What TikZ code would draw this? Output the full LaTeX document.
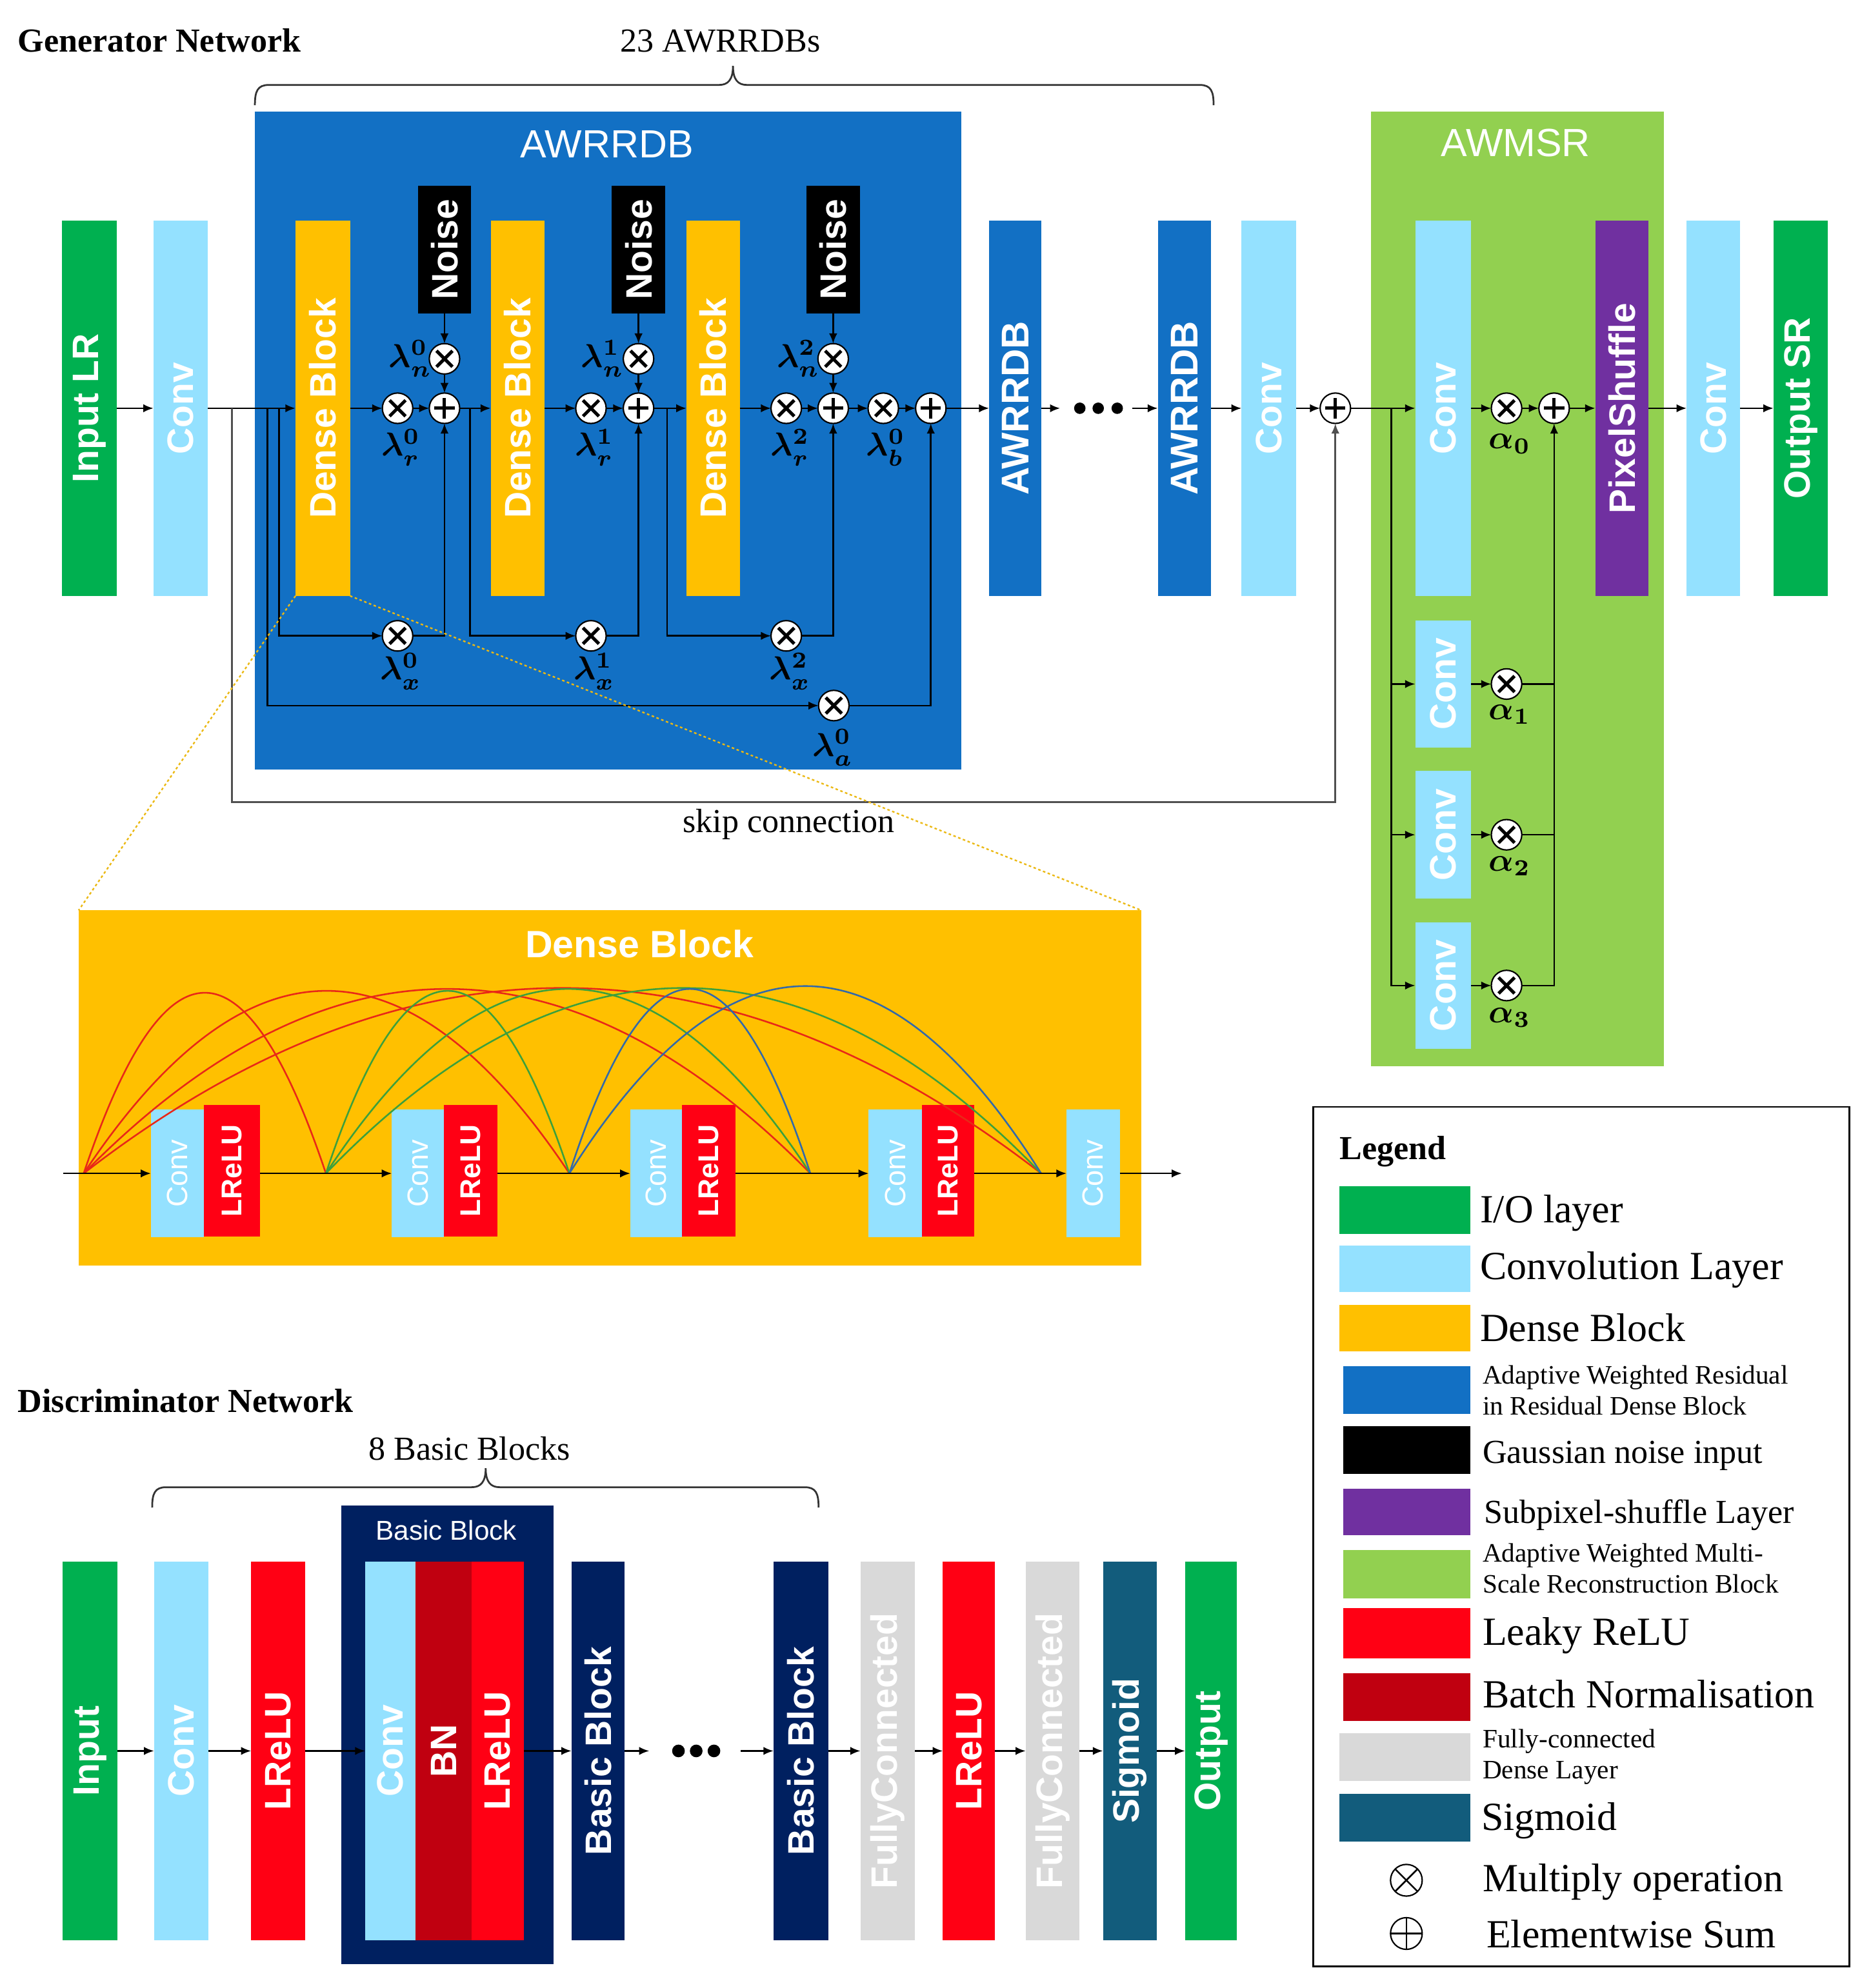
\documentclass[tikz,border=0pt]{standalone}
\usepackage{fontspec}
\setmainfont{Liberation Serif}
\setsansfont{Liberation Sans}
\usetikzlibrary{arrows.meta}
\definecolor{cio}{RGB}{0,176,80}
\definecolor{cconv}{RGB}{148,225,255}
\definecolor{cdense}{RGB}{255,192,0}
\definecolor{cawr}{RGB}{18,112,196}
\definecolor{cpix}{RGB}{112,48,160}
\definecolor{cmsr}{RGB}{146,208,80}
\definecolor{crelu}{RGB}{255,0,20}
\definecolor{cbn}{RGB}{192,0,16}
\definecolor{cfc}{RGB}{217,217,217}
\definecolor{csig}{RGB}{18,92,124}
\definecolor{cnavy}{RGB}{0,32,96}
\definecolor{cskip}{RGB}{80,80,80}
\definecolor{carcr}{RGB}{232,40,24}
\definecolor{carcg}{RGB}{60,160,60}
\definecolor{carcb}{RGB}{50,105,170}
\definecolor{czoom}{RGB}{235,185,20}
\newcommand\fvb{\sffamily\bfseries\fontsize{29}{29}\selectfont}
\newcommand\fvbl{\sffamily\bfseries\fontsize{30.5}{30.5}\selectfont}
\newcommand\fvr{\sffamily\fontsize{23}{23}\selectfont}
\newcommand\fvs{\sffamily\bfseries\fontsize{22.5}{22.5}\selectfont}
\newcommand\ftitle{\sffamily\fontsize{31}{31}\selectfont}
\newcommand\fhead{\rmfamily\bfseries\fontsize{26.5}{30}\selectfont}
\newcommand\ftext{\rmfamily\fontsize{26.5}{30}\selectfont}
\newcommand\flgA{\rmfamily\fontsize{31.5}{34}\selectfont}
\newcommand\flgB{\rmfamily\fontsize{26.5}{30}\selectfont}
\newcommand\flgC{\rmfamily\fontsize{21}{24.5}\selectfont}
\newcommand\rt[1]{\rotatebox{90}{#1}}
\newcommand\lm[1]{\scalebox{2.6}{\boldmath$#1$}}
\tikzset{
 sz/.style 2 args={minimum width=#1pt, minimum height=#2pt},
 blk/.style={rectangle, inner sep=0pt, outer sep=0pt, text=white, font=\fvb},
 bgbox/.style={rectangle, inner sep=0pt, outer sep=0pt},
 arr/.style={line width=1.3pt, -{Latex[length=8pt,width=6.5pt]}},
 wire/.style={line width=1.3pt},
 opc/.style={circle, draw=black, line width=1.1pt, fill=white, minimum size=24pt, inner sep=0pt, outer sep=0pt},
 opmul/.style={opc, path picture={\draw[line width=2.6pt] ([shift={(-6.3pt,-6.3pt)}]path picture bounding box.center) -- ([shift={(6.3pt,6.3pt)}]path picture bounding box.center) ([shift={(-6.3pt,6.3pt)}]path picture bounding box.center) -- ([shift={(6.3pt,-6.3pt)}]path picture bounding box.center);}},
 opsum/.style={opc, path picture={\draw[line width=2.6pt] ([shift={(-8pt,0pt)}]path picture bounding box.center) -- ([shift={(8pt,0pt)}]path picture bounding box.center) ([shift={(0pt,-8pt)}]path picture bounding box.center) -- ([shift={(0pt,8pt)}]path picture bounding box.center);}},
 lgop/.style={circle, draw=black, line width=1.1pt, minimum size=25pt, inner sep=0pt},
 lgmul/.style={lgop, path picture={\draw[line width=1.3pt] ([shift={(-9pt,-9pt)}]path picture bounding box.center) -- ([shift={(9pt,9pt)}]path picture bounding box.center) ([shift={(-9pt,9pt)}]path picture bounding box.center) -- ([shift={(9pt,-9pt)}]path picture bounding box.center);}},
 lgsum/.style={lgop, path picture={\draw[line width=1.3pt] ([shift={(-13pt,0pt)}]path picture bounding box.center) -- ([shift={(13pt,0pt)}]path picture bounding box.center) ([shift={(0pt,-13pt)}]path picture bounding box.center) -- ([shift={(0pt,13pt)}]path picture bounding box.center);}},
 lamlab/.style={inner sep=0pt},
 bracel/.style={line width=1.4pt, draw=black!80},
 zoomline/.style={line width=1.2pt, draw=czoom, dash pattern=on 2pt off 2pt},
 arcl/.style={line width=1.3pt},
 txt/.style={inner sep=0pt},
}
\begin{document}
\begin{tikzpicture}[x=1pt,y=-1pt]
\useasboundingbox (0,0) rectangle (1475,1568);

% ================= Generator =================
\node[txt, anchor=base west, font=\fhead] (gtitle) at (14,41) {Generator Network};
\node[txt, anchor=base, font=\ftext] (gcount) at (568,41) {23 AWRRDBs};
\draw[bracel] (201,83) .. controls (201,72) and (203,67) .. (212,67) -- (567,67) .. controls (574,67) and (578,63) .. (578,52) .. controls (578,63) and (582,67) .. (589,67) -- (946,67) .. controls (955,67) and (957,72) .. (957,83);

\node[bgbox, fill=cawr, sz={557}{519}] (awbox) at (479.5,347.5) {};
\node[txt, anchor=base, font=\ftitle, text=white] (awtitle) at (478.5,124.4) {AWRRDB};
\node[bgbox, fill=cmsr, sz={231}{753}] (msrbox) at (1196.5,464.5) {};
\node[txt, anchor=base, font=\ftitle, text=white] (msrtitle) at (1195.2,123.3) {AWMSR};

\node[blk, fill=cio, sz={43}{296}] (inLR) at (70.5,322) {\rt{Input LR}};
\node[blk, fill=cconv, sz={43}{296}] (gc1) at (142.5,322) {\rt{Conv}};
\node[blk, fill=cdense, sz={43}{296}] (db1) at (254.5,322) {\rt{Dense Block}};
\node[blk, fill=cdense, sz={42.6}{296}] (db2) at (408.3,322) {\rt{Dense Block}};
\node[blk, fill=cdense, sz={42}{296}] (db3) at (562.3,322) {\rt{Dense Block}};
\node[blk, fill=black, sz={42}{100.5}] (nz1) at (350.5,196.8) {\rt{Noise}};
\node[blk, fill=black, sz={42}{100.5}] (nz2) at (503.5,196.8) {\rt{Noise}};
\node[blk, fill=black, sz={42}{100.5}] (nz3) at (657,196.8) {\rt{Noise}};
\node[blk, font=\fvbl, fill=cawr, sz={41}{296}] (aw2) at (800.5,322) {\rt{AWRRDB}};
\node[blk, font=\fvbl, fill=cawr, sz={42}{296}] (aw3) at (934,322) {\rt{AWRRDB}};
\node[bgbox, sz={57}{10}] (dots1) at (864.5,322) {};
\fill (851.5,322) circle[radius=4.5pt] (866,322) circle[radius=4.5pt] (881,322) circle[radius=4.5pt];
\node[blk, fill=cconv, sz={43}{296}] (gc2) at (1000.5,322) {\rt{Conv}};
\node[blk, fill=cconv, sz={44}{296}] (cA) at (1138,322) {\rt{Conv}};
\node[blk, fill=cconv, sz={44}{100}] (sc1) at (1138,539.5) {\rt{Conv}};
\node[blk, fill=cconv, sz={44}{101}] (sc2) at (1138,658.4) {\rt{Conv}};
\node[blk, fill=cconv, sz={44}{100}] (sc3) at (1138,777.3) {\rt{Conv}};
\node[blk, fill=cpix, sz={42}{296}] (pix) at (1279,322) {\rt{PixelShuffle}};
\node[blk, fill=cconv, sz={42}{296}] (gc3) at (1351,322) {\rt{Conv}};
\node[blk, fill=cio, sz={43}{296}] (outSR) at (1420,322) {\rt{Output SR}};

% operators
\node[opmul] (mr0) at (313.5,322) {};
\node[opsum] (p0) at (350.5,322) {};
\node[opmul] (mn0) at (350.5,283) {};
\node[opmul] (mr1) at (466,322) {};
\node[opsum] (p1) at (503.5,322) {};
\node[opmul] (mn1) at (503.5,283) {};
\node[opmul] (mr2) at (620,322) {};
\node[opsum] (p2) at (657,322) {};
\node[opmul] (mn2) at (657,283) {};
\node[opmul] (mb) at (696.5,322) {};
\node[opsum] (pf) at (734,322) {};
\node[opmul] (mx0) at (313.5,501.5) {};
\node[opmul] (mx1) at (466,501.5) {};
\node[opmul] (mx2) at (620,501.5) {};
\node[opmul] (ma) at (657.5,556.5) {};
\node[opsum] (ps) at (1053,322) {};
\node[opmul] (a0) at (1188,322) {};
\node[opsum] (pa) at (1225.5,322) {};
\node[opmul] (a1) at (1188,539.5) {};
\node[opmul] (a2) at (1188,658.4) {};
\node[opmul] (a3) at (1188,777.3) {};

% labels
\node[lamlab] (ln0) at (323.5,283) {\lm{\lambda_n^0}};
\node[lamlab] (ln1) at (475,283) {\lm{\lambda_n^1}};
\node[lamlab] (ln2) at (629.5,283) {\lm{\lambda_n^2}};
\node[lamlab] (lr0) at (316,353) {\lm{\lambda_r^0}};
\node[lamlab] (lr1) at (468.6,353) {\lm{\lambda_r^1}};
\node[lamlab] (lr2) at (623,353) {\lm{\lambda_r^2}};
\node[lamlab] (lb0) at (698.5,353) {\lm{\lambda_b^0}};
\node[lamlab] (lx0) at (316,529.5) {\lm{\lambda_x^0}};
\node[lamlab] (lx1) at (468.6,529.5) {\lm{\lambda_x^1}};
\node[lamlab] (lx2) at (623,529.5) {\lm{\lambda_x^2}};
\node[lamlab] (la0) at (656.7,589.7) {\lm{\lambda_a^0}};
\node[lamlab] (al0) at (1190.5,350) {\lm{\alpha_0}};
\node[lamlab] (al1) at (1190.5,563.5) {\lm{\alpha_1}};
\node[lamlab] (al2) at (1190.5,683) {\lm{\alpha_2}};
\node[lamlab] (al3) at (1190.5,802.7) {\lm{\alpha_3}};

% connections
\coordinate (b0) at (183,322);
\coordinate (b1) at (211,322);
\coordinate (b2) at (220,322);
\coordinate (skc) at (183,632.5);
\coordinate (b3) at (370.5,322);
\coordinate (b5) at (526,322);
\coordinate (b4) at (1097,322);
\draw[arr] (inLR) -- (gc1);
\draw[arr] (gc1) -- (db1);
\draw[arr, draw=cskip] (b0) -- (skc) -| (ps);
\draw[arr] (b1) |- (ma);
\draw[arr] (b2) |- (mx0);
\draw[arr] (db1) -- (mr0);
\draw[arr] (mr0) -- (p0);
\draw[arr] (nz1) -- (mn0);
\draw[arr] (mn0) -- (p0);
\draw[arr] (mx0) -| (p0);
\draw[arr] (p0) -- (db2);
\draw[arr] (b3) |- (mx1);
\draw[arr] (db2) -- (mr1);
\draw[arr] (mr1) -- (p1);
\draw[arr] (nz2) -- (mn1);
\draw[arr] (mn1) -- (p1);
\draw[arr] (mx1) -| (p1);
\draw[arr] (p1) -- (db3);
\draw[arr] (b5) |- (mx2);
\draw[arr] (db3) -- (mr2);
\draw[arr] (mr2) -- (p2);
\draw[arr] (nz3) -- (mn2);
\draw[arr] (mn2) -- (p2);
\draw[arr] (mx2) -| (p2);
\draw[arr] (p2) -- (mb);
\draw[arr] (mb) -- (pf);
\draw[arr] (ma) -| (pf);
\draw[arr] (pf) -- (aw2);
\draw[arr] (aw2) -- (dots1);
\draw[arr] (dots1) -- (aw3);
\draw[arr] (aw3) -- (gc2);
\draw[arr] (gc2) -- (ps);
\draw[arr] (ps) -- (cA);
\draw[arr] (b4) |- (sc1);
\draw[arr] (b4) |- (sc2);
\draw[arr] (b4) |- (sc3);
\draw[arr] (cA) -- (a0);
\draw[arr] (a0) -- (pa);
\draw[arr] (pa) -- (pix);
\draw[arr] (pix) -- (gc3);
\draw[arr] (gc3) -- (outSR);
\draw[arr] (sc1) -- (a1);
\draw[arr] (sc2) -- (a2);
\draw[arr] (sc3) -- (a3);
\draw[arr] (a3) -| (pa);
\draw[wire] (a1) -- (a1 -| pa);
\draw[wire] (a2) -- (a2 -| pa);
\node[txt, anchor=base, font=\ftext] (skiplbl) at (622,656.7) {skip connection};

% ================= Dense block zoom =================
\node[bgbox, fill=cdense, sz={838}{280}] (dbz) at (481,858) {};
\node[txt, anchor=base, font=\sffamily\bfseries\fontsize{30}{30}\selectfont, text=white] (dbztitle) at (504.3,755) {Dense Block};
\node[blk, font=\fvr, fill=cconv, sz={42}{101}] (dc1) at (140,925.5) {\rt{Conv}};
\node[blk, font=\fvs, fill=crelu, sz={44}{104}] (dl1) at (183,923.5) {\rt{LReLU}};
\node[blk, font=\fvr, fill=cconv, sz={41}{101}] (dc2) at (329.5,925.5) {\rt{Conv}};
\node[blk, font=\fvs, fill=crelu, sz={42}{104}] (dl2) at (371,923.5) {\rt{LReLU}};
\node[blk, font=\fvr, fill=cconv, sz={41}{101}] (dc3) at (517.5,925.5) {\rt{Conv}};
\node[blk, font=\fvs, fill=crelu, sz={42}{104}] (dl3) at (559,923.5) {\rt{LReLU}};
\node[blk, font=\fvr, fill=cconv, sz={42}{101}] (dc4) at (706,925.5) {\rt{Conv}};
\node[blk, font=\fvs, fill=crelu, sz={41}{104}] (dl4) at (747.5,923.5) {\rt{LReLU}};
\node[blk, font=\fvr, fill=cconv, sz={42}{101}] (dc5) at (862,925.5) {\rt{Conv}};
\coordinate (ds) at (50,925.5);
\coordinate (n0) at (66,925.5);
\coordinate (n1) at (257,925.5);
\coordinate (n2) at (449,925.5);
\coordinate (n3) at (639,925.5);
\coordinate (n4) at (821,925.5);
\coordinate (de) at (932,925.5);
% dense arcs
\draw[arcl, carcr] (n0) .. controls +(63.7,-190) and +(-63.7,-190) .. (n1);
\draw[arcl, carcr] (n0) .. controls +(127.7,-192) and +(-127.7,-192) .. (n2);
\draw[arcl, carcr] (n0) .. controls +(191,-194) and +(-191,-194) .. (n3);
\draw[arcl, carcr] (n0) .. controls +(251.7,-195) and +(-251.7,-195) .. (n4);
\draw[arcl, carcg] (n1) .. controls +(64,-192) and +(-64,-192) .. (n2);
\draw[arcl, carcg] (n1) .. controls +(127.3,-194) and +(-127.3,-194) .. (n3);
\draw[arcl, carcg] (n1) .. controls +(188,-195) and +(-188,-195) .. (n4);
\draw[arcl, carcb] (n2) .. controls +(63.3,-194) and +(-63.3,-194) .. (n3);
\draw[arcl, carcb] (n2) .. controls +(124,-197) and +(-124,-197) .. (n4);
\draw[arr] (ds) -- (dc1);
\draw[arr] (dl1.east |- n1) -- (dc2);
\draw[arr] (dl2.east |- n2) -- (dc3);
\draw[arr] (dl3.east |- n3) -- (dc4);
\draw[arr] (dl4.east |- n4) -- (dc5);
\draw[arr] (dc5) -- (de);

% zoom guide lines
\draw[zoomline] (db1.south west) -- (dbz.north west);
\draw[zoomline] (db1.south east) -- (dbz.north east);

% ================= Discriminator =================
\node[txt, anchor=base west, font=\fhead] (dtitle) at (14,1114) {Discriminator Network};
\node[txt, anchor=base, font=\ftext] (dcount) at (370.2,1151.4) {8 Basic Blocks};
\draw[bracel] (120,1189) .. controls (120,1178) and (122,1173) .. (131,1173) -- (372,1173) .. controls (379,1173) and (383,1169) .. (383,1158) .. controls (383,1169) and (387,1173) .. (394,1173) -- (634.5,1173) .. controls (643.5,1173) and (645.5,1178) .. (645.5,1189);
\node[bgbox, fill=cnavy, sz={167.6}{361.4}] (bbox) at (352.8,1368.3) {};
\node[txt, anchor=base, font=\sffamily\fontsize{21.5}{21.5}\selectfont, text=white] (bbtitle) at (352,1214.8) {Basic Block};
\node[blk, fill=cio, sz={43}{299}] (dIn) at (70.9,1381) {\rt{Input}};
\node[blk, fill=cconv, sz={43}{299}] (dConv) at (143,1381) {\rt{Conv}};
\node[blk, fill=crelu, sz={42.5}{299}] (dLR) at (219.3,1381) {\rt{LReLU}};
\node[blk, fill=cconv, sz={39.8}{299}] (bConv) at (307.9,1381) {\rt{Conv}};
\node[blk, fill=cbn, sz={44}{299}] (bBN) at (349.8,1381) {\rt{BN}};
\node[blk, fill=crelu, sz={41.4}{299}] (bLR) at (392.5,1381) {\rt{LReLU}};
\node[blk, fill=cnavy, sz={41.7}{299}] (dBB1) at (471.5,1381) {\rt{Basic Block}};
\node[bgbox, sz={72}{10}] (dots2) at (548,1381) {};
\fill (535,1381) circle[radius=5pt] (549,1381) circle[radius=5pt] (563,1381) circle[radius=5pt];
\node[blk, fill=cnavy, sz={43}{299}] (dBB2) at (631.5,1381) {\rt{Basic Block}};
\node[blk, fill=cfc, sz={43}{299}] (dFC1) at (700,1381) {\rt{FullyConnected}};
\node[blk, fill=crelu, sz={41}{299}] (dLR2) at (764,1381) {\rt{LReLU}};
\node[blk, fill=cfc, sz={42.4}{299}] (dFC2) at (830,1381) {\rt{FullyConnected}};
\node[blk, fill=csig, sz={42.5}{299}] (dSig) at (891,1381) {\rt{Sigmoid}};
\node[blk, fill=cio, sz={41}{299}] (dOut) at (955,1381) {\rt{Output}};
\draw[arr] (dIn) -- (dConv);
\draw[arr] (dConv) -- (dLR);
\draw[arr] (dLR) -- (bConv);
\draw[arr] (bLR) -- (dBB1);
\draw[arr] (dBB1) -- (dots2);
\draw[arr] (dots2) -- (dBB2);
\draw[arr] (dBB2) -- (dFC1);
\draw[arr] (dFC1) -- (dLR2);
\draw[arr] (dLR2) -- (dFC2);
\draw[arr] (dFC2) -- (dSig);
\draw[arr] (dSig) -- (dOut);

% ================= Legend =================
\node[bgbox, draw=black, line width=1.3pt, sz={422.7}{678}] (lgd) at (1247.05,1212) {};
\node[txt, anchor=base west, font=\fhead] (lgtitle) at (1056.3,914.3) {Legend};
\node[bgbox, fill=cio, sz={103.2}{37.6}] (sw1) at (1107.9,954.6) {};
\node[bgbox, fill=cconv, sz={103.2}{36.8}] (sw2) at (1107.9,1000.8) {};
\node[bgbox, fill=cdense, sz={103.2}{36.8}] (sw3) at (1107.9,1047.4) {};
\node[bgbox, fill=cawr, sz={100.5}{37.6}] (sw4) at (1109.25,1096.3) {};
\node[bgbox, fill=black, sz={100.5}{37.7}] (sw5) at (1109.25,1143.9) {};
\node[bgbox, fill=cpix, sz={100.5}{36.8}] (sw6) at (1109.25,1192.6) {};
\node[bgbox, fill=cmsr, sz={100.5}{37.7}] (sw7) at (1109.25,1241.6) {};
\node[bgbox, fill=crelu, sz={100.5}{39.5}] (sw8) at (1109.25,1288.3) {};
\node[bgbox, fill=cbn, sz={100.5}{37.7}] (sw9) at (1109.25,1338.5) {};
\node[bgbox, fill=cfc, sz={103.2}{37.7}] (sw10) at (1107.9,1385.9) {};
\node[bgbox, fill=csig, sz={103.2}{37.7}] (sw11) at (1107.9,1433.5) {};
\node[lgmul] (lgm) at (1109,1483) {};
\node[lgsum] (lgs) at (1109,1525) {};
\node[txt, anchor=base west, font=\flgA] (lt1) at (1167,964.5) {I/O layer};
\node[txt, anchor=base west, font=\flgA] (lt2) at (1167,1009.3) {Convolution Layer};
\node[txt, anchor=base west, font=\flgA] (lt3) at (1167,1057.8) {Dense Block};
\node[txt, anchor=base west, font=\flgC] (lt4) at (1169,1091.3) {\begin{tabular}[t]{@{}l@{}}Adaptive Weighted Residual\\in Residual Dense Block\end{tabular}};
\node[txt, anchor=base west, font=\flgB] (lt5) at (1169,1154.2) {Gaussian noise input};
\node[txt, anchor=base west, font=\flgB] (lt6) at (1170,1201.2) {Subpixel-shuffle Layer};
\node[txt, anchor=base west, font=\flgC] (lt7) at (1169,1231.8) {\begin{tabular}[t]{@{}l@{}}Adaptive Weighted Multi-\\Scale Reconstruction Block\end{tabular}};
\node[txt, anchor=base west, font=\flgA] (lt8) at (1169,1297.6) {Leaky ReLU};
\node[txt, anchor=base west, font=\flgA] (lt9) at (1169,1347) {Batch Normalisation};
\node[txt, anchor=base west, font=\flgC] (lt10) at (1169,1378.4) {\begin{tabular}[t]{@{}l@{}}Fully-connected\\Dense Layer\end{tabular}};
\node[txt, anchor=base west, font=\flgA] (lt11) at (1168,1443.4) {Sigmoid};
\node[txt, anchor=base west, font=\flgA] (lt12) at (1169,1491.8) {Multiply operation};
\node[txt, anchor=base west, font=\flgA] (lt13) at (1172,1536.2) {Elementwise Sum};
\end{tikzpicture}
\end{document}
